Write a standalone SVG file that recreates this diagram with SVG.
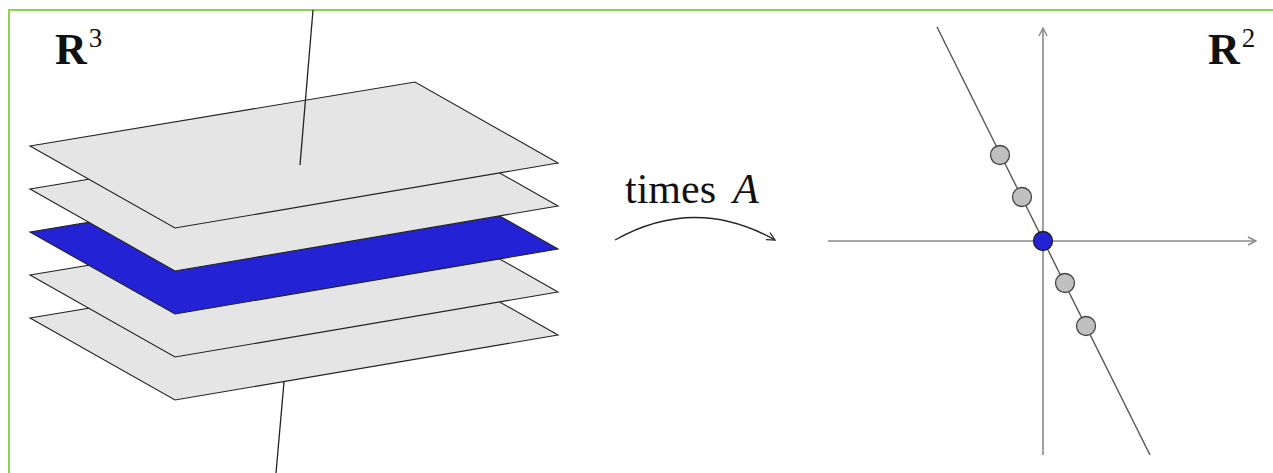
<svg xmlns="http://www.w3.org/2000/svg" width="1273" height="473" viewBox="0 0 1273 473">
<defs>
<style>
.plane{fill:#e5e5e5;stroke:#222;stroke-width:1.1;stroke-linejoin:miter}
.blue{fill:#2323d5}
.normal{stroke:#222;stroke-width:1.3;fill:none}
.axis{stroke:#8a8a8a;stroke-width:1.6;fill:none}
.pt{fill:#c0c0c0;stroke:#444;stroke-width:1.3}
.lbl{font-family:"Liberation Serif","DejaVu Serif",serif;fill:#111}
</style>
<marker id="ah" viewBox="0 0 10 10" refX="9" refY="5" markerWidth="10" markerHeight="10" markerUnits="userSpaceOnUse" orient="auto">
<path d="M1,1 L9,5 L1,9" fill="none" stroke="#222" stroke-width="1.2"/>
</marker>
<marker id="ahg" viewBox="0 0 10 10" refX="9" refY="5" markerWidth="10" markerHeight="10" markerUnits="userSpaceOnUse" orient="auto">
<path d="M1,1 L9,5 L1,9" fill="none" stroke="#8a8a8a" stroke-width="1.4"/>
</marker>
</defs>
<rect x="0" y="0" width="1273" height="473" fill="#fff"/>
<rect x="9" y="10" width="1280" height="480" fill="none" stroke="#8fd14f" stroke-width="2"/>

<g id="normal-lower"><line class="normal" x1="284" y1="382" x2="276" y2="473"/></g>
<g id="plane5"><polygon class="plane" points="30,318 415,254 558,335 175,400"/></g>
<g id="plane4"><polygon class="plane" points="30,275 415,211 558,292 175,357"/></g>
<g id="plane3"><polygon class="plane blue" points="30,232 415,168 558,249 175,314"/></g>
<g id="plane2"><polygon class="plane" points="30,189 415,125 558,206 175,271"/></g>
<g id="plane1"><polygon class="plane" points="30,146 415,82 558,163 175,228"/></g>
<g id="normal-upper"><line class="normal" x1="313" y1="10" x2="300" y2="165"/></g>

<g id="label-r3"><text class="lbl" x="55" y="64" font-size="44" font-weight="bold">R<tspan font-size="27" font-weight="normal" dx="2" dy="-17">3</tspan></text></g>
<g id="label-r2"><text class="lbl" x="1208" y="64" font-size="44" font-weight="bold">R<tspan font-size="27" font-weight="normal" dx="2" dy="-17">2</tspan></text></g>

<g id="connectors">
<path class="normal" d="M615,240 Q695,195 775,240" marker-end="url(#ah)" stroke-width="1.2"/>
<line class="axis" x1="828" y1="241" x2="1256" y2="241" marker-end="url(#ahg)"/>
<line class="axis" x1="1043" y1="455" x2="1043" y2="28" marker-end="url(#ahg)"/>
</g>
<g id="label-times"><text class="lbl" x="625" y="203" font-size="42">times <tspan x="733" font-style="italic">A</tspan></text></g>

<g id="image-line"><line x1="937" y1="27" x2="1150" y2="455" stroke="#555" stroke-width="1.4"/></g>
<g id="points">
<circle class="pt" cx="1000" cy="155" r="9.5"/>
<circle class="pt" cx="1022" cy="197" r="9.5"/>
<circle class="pt" cx="1065" cy="283" r="9.5"/>
<circle class="pt" cx="1086" cy="326" r="9.5"/>
<circle cx="1043" cy="241" r="9.5" fill="#2323d5" stroke="#222" stroke-width="1.3"/>
</g>
</svg>
